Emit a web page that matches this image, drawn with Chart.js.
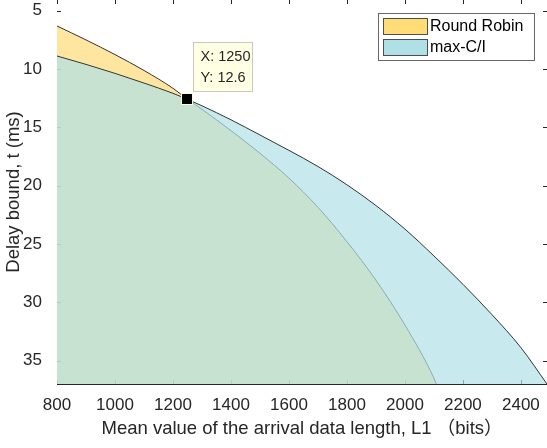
<!DOCTYPE html>
<html>
<head>
<meta charset="utf-8">
<script src="https://cdn.jsdelivr.net/npm/chart.js@4"></script>
<style>
  html, body { margin: 0; padding: 0; background: #fff; }
  #wrap { width: 547px; height: 448px; }
</style>
</head>
<body>
<div id="wrap"><canvas id="chart" width="547" height="448"></canvas></div>
<script>
// values
const lengthRR = [800, 900, 1000, 1100, 1200, 1250, 1300, 1400, 1500, 1600, 1700, 1800, 1900, 2000, 2100, 2108];
const delayRR  = [6.31, 7.5, 8.76, 10.12, 11.65, 12.6, 13.45, 15.28, 17.22, 19.35, 21.85, 24.8, 28.1, 31.95, 36.5, 37];
const lengthCI = [800, 900, 1000, 1100, 1200, 1250, 1300, 1400, 1500, 1600, 1700, 1800, 1900, 2000, 2100, 2200, 2300, 2400, 2490];
const delayCI  = [8.88, 9.6, 10.37, 11.2, 12.08, 12.6, 13.15, 14.35, 15.65, 16.97, 18.35, 19.92, 21.7, 23.72, 26.02, 28.45, 31.05, 33.88, 37];
const xTicks = [800, 1000, 1200, 1400, 1600, 1800, 2000, 2200, 2400];
const yTicks = [5, 10, 15, 20, 25, 30, 35];
const seriesNames = ['Round Robin', 'max-C/I'];
const tipPoint = { x: 1250, y: 12.6 };

const FONT = '"Liberation Sans", Arial, Helvetica, "Noto Sans CJK SC", sans-serif';
const INK = '#262626';
const yellow = 'rgb(255,220,120)';
const blue = 'rgb(176,224,230)';

function toPoints(xs, ys) {
    return xs.map((v, i) => ({ x: v, y: ys[i] }));
}

// MATLAB style ticks pointing inward, under the patches
const frameTicks = {
    id: 'frameTicks',
    beforeDatasetsDraw(chart) {
        const { ctx, chartArea: a, scales: { x, y } } = chart;
        ctx.save();
        ctx.strokeStyle = INK;
        ctx.lineWidth = 1;
        ctx.beginPath();
        xTicks.forEach(v => {
            const px = Math.round(x.getPixelForValue(v)) + 0.5;
            ctx.moveTo(px, a.bottom); ctx.lineTo(px, a.bottom - 4);
            ctx.moveTo(px, a.top); ctx.lineTo(px, a.top + 4);
        });
        yTicks.forEach(v => {
            const py = Math.round(y.getPixelForValue(v)) + 0.5;
            ctx.moveTo(a.left, py); ctx.lineTo(a.left + 4, py);
            ctx.moveTo(a.right, py); ctx.lineTo(a.right - 4, py);
        });
        ctx.stroke();
        ctx.restore();
    },
    afterDatasetsDraw(chart) {
        const { ctx, chartArea: a } = chart;
        ctx.save();
        ctx.strokeStyle = INK;
        ctx.lineWidth = 1;
        ctx.beginPath();
        ctx.moveTo(a.left, Math.round(a.bottom) + 0.5);
        ctx.lineTo(a.right, Math.round(a.bottom) + 0.5);
        ctx.stroke();
        ctx.restore();
    }
};

// data tip box with black marker
const dataTip = {
    id: 'dataTip',
    afterDatasetsDraw(chart) {
        const { ctx, scales: { x, y } } = chart;
        const px = x.getPixelForValue(tipPoint.x);
        const py = y.getPixelForValue(tipPoint.y);
        ctx.save();
        const bx = Math.round(px) + 6.5, by = Math.round(py) - 56.5;
        ctx.fillStyle = 'rgb(255,255,228)';
        ctx.strokeStyle = '#c8c8c0';
        ctx.lineWidth = 1;
        ctx.fillRect(bx, by, 59, 49);
        ctx.strokeRect(bx, by, 59, 49);
        ctx.fillStyle = INK;
        ctx.font = '14.5px ' + FONT;
        ctx.textBaseline = 'middle';
        ctx.textAlign = 'left';
        ctx.fillText('X: ' + tipPoint.x, bx + 7, by + 14);
        ctx.fillText('Y: ' + tipPoint.y, bx + 7, by + 35);
        ctx.fillStyle = 'rgb(255,250,210)';
        ctx.fillRect(Math.round(px) - 6, Math.round(py) - 6, 12, 12);
        ctx.fillStyle = '#000';
        ctx.fillRect(Math.round(px) - 5, Math.round(py) - 5, 10, 10);
        ctx.restore();
    }
};

// legend box in the top right corner of the axes
const boxLegend = {
    id: 'boxLegend',
    afterDraw(chart) {
        const { ctx } = chart;
        const colors = [yellow, blue];
        ctx.save();
        ctx.fillStyle = '#fff';
        ctx.fillRect(378.5, 13.5, 156, 47);
        ctx.strokeStyle = 'rgba(38,38,38,0.7)';
        ctx.lineWidth = 1;
        ctx.strokeRect(378.5, 13.5, 156, 47);
        ctx.font = '16px ' + FONT;
        ctx.textBaseline = 'middle';
        ctx.textAlign = 'left';
        seriesNames.forEach((name, i) => {
            const top = 18.5 + i * 21;
            ctx.fillStyle = colors[i];
            ctx.fillRect(383.5, top, 44, 16);
            ctx.strokeStyle = 'rgba(38,38,38,0.8)';
            ctx.strokeRect(383.5, top, 44, 16);
            ctx.fillStyle = '#000';
            ctx.fillText(name, 430, top + 8.5);
        });
        ctx.restore();
    }
};

const ctx = document.getElementById('chart').getContext('2d');
const chart = new Chart(ctx, {
    type: 'line',
    data: {
        datasets: [{
            label: seriesNames[0],
            data: toPoints(lengthRR, delayRR),
            borderColor: '#333333',
            borderWidth: 1,
            backgroundColor: 'rgba(255,220,120,0.7)',
            fill: { value: 37 },
            pointRadius: 0,
            cubicInterpolationMode: 'monotone',
            order: 2
        }, {
            label: seriesNames[1],
            data: toPoints(lengthCI, delayCI),
            borderColor: '#333333',
            borderWidth: 1,
            backgroundColor: 'rgba(176,224,230,0.7)',
            fill: { value: 37 },
            pointRadius: 0,
            cubicInterpolationMode: 'monotone',
            order: 1
        }]
    },
    options: {
        responsive: false,
        animation: false,
        devicePixelRatio: 1,
        layout: { padding: 0 },
        plugins: {
            legend: { display: false },
            tooltip: { enabled: false }
        },
        scales: {
            x: {
                type: 'linear',
                min: 800,
                max: 2490,
                grid: { display: false },
                border: { display: false },
                afterBuildTicks: s => { s.ticks = xTicks.map(v => ({ value: v })); },
                afterFit: s => {
                    s.height = 64;
                    s.paddingLeft = 0;
                    s.paddingRight = 0;
                },
                ticks: {
                    color: INK,
                    font: { family: FONT, size: 17 },
                    padding: 3,
                    maxRotation: 0,
                    autoSkip: false,
                    callback: v => String(v)
                },
                title: {
                    display: true,
                    text: 'Mean value of the arrival data length, L1 （bits）',
                    color: INK,
                    font: { family: FONT, size: 18.5 },
                    padding: { top: 0, bottom: 8 }
                }
            },
            y: {
                type: 'linear',
                reverse: true,
                min: 4.08,
                max: 37,
                grid: { display: false },
                border: { display: false },
                afterBuildTicks: s => { s.ticks = yTicks.map(v => ({ value: v })); },
                afterFit: s => {
                    s.width = 57;
                    s.paddingTop = 0;
                    s.paddingBottom = 0;
                },
                ticks: {
                    color: INK,
                    font: { family: FONT, size: 17 },
                    padding: 7
                },
                title: {
                    display: true,
                    text: 'Delay bound, t (ms)',
                    color: INK,
                    font: { family: FONT, size: 18.5 },
                    padding: { top: 3, bottom: 0 }
                }
            }
        }
    },
    plugins: [frameTicks, dataTip, boxLegend]
});
</script>
</body>
</html>
